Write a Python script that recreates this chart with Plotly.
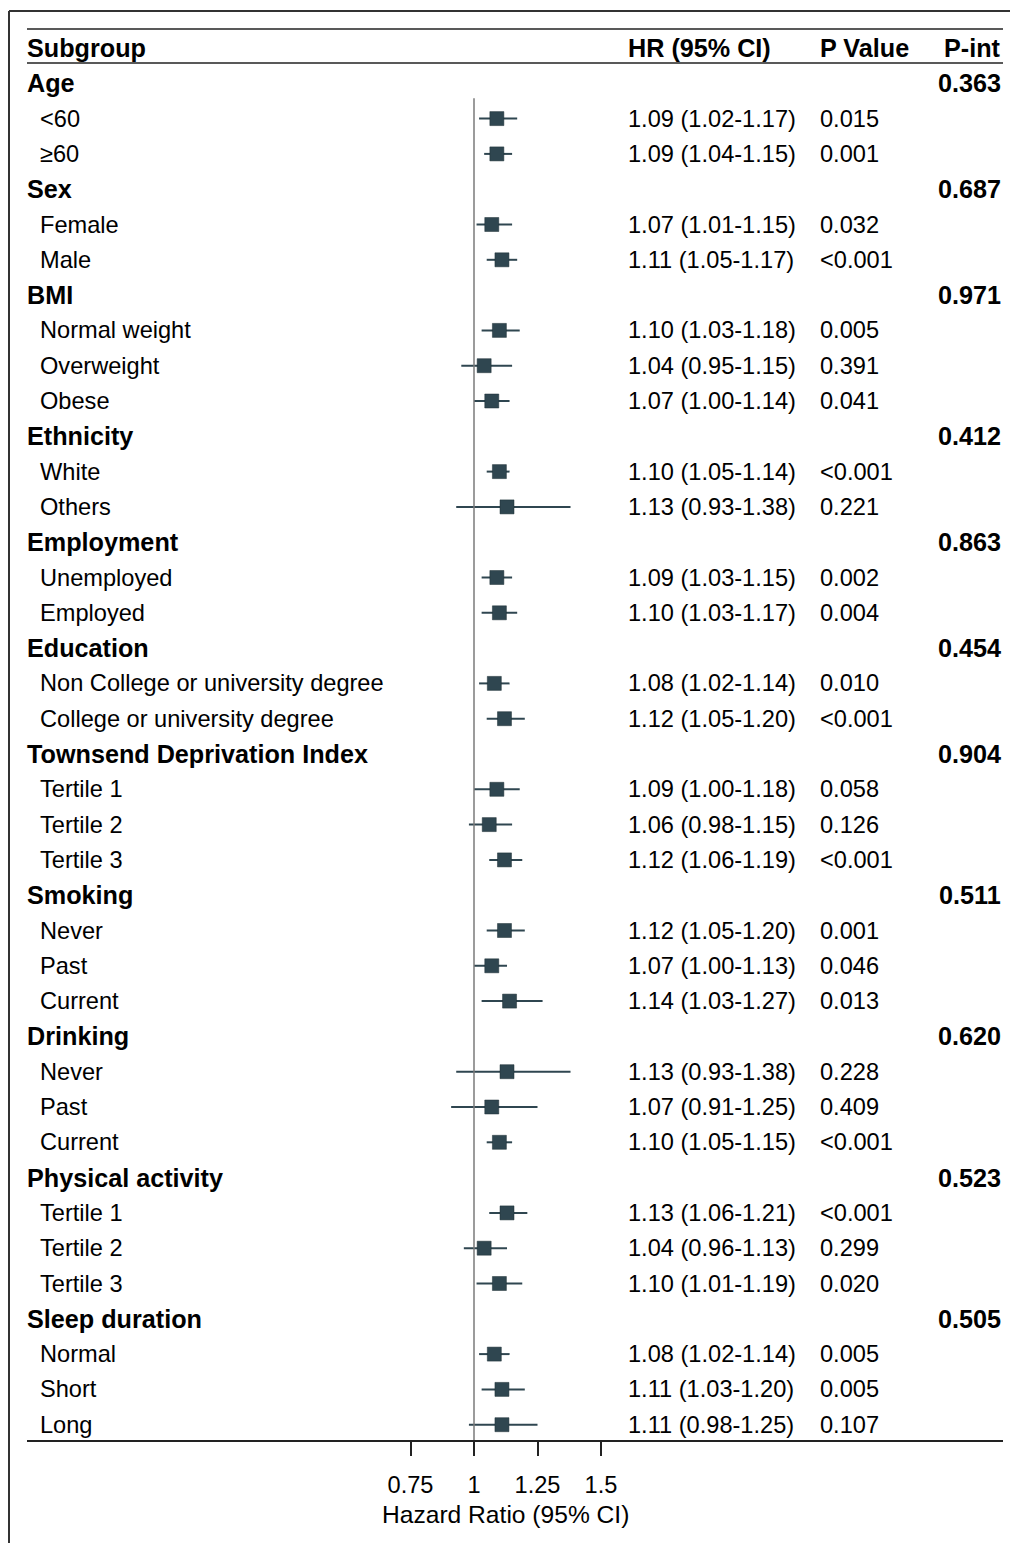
import plotly.graph_objects as go

# ---- data -------------------------------------------------------------
groups = ["Age", "Sex", "BMI", "Ethnicity", "Employment", "Education",
          "Townsend Deprivation Index", "Smoking", "Drinking",
          "Physical activity", "Sleep duration"]
p_interaction = ["0.363", "0.687", "0.971", "0.412", "0.863", "0.454",
                 "0.904", "0.511", "0.620", "0.523", "0.505"]
subgroups = [
    ["<60", "≥60"],
    ["Female", "Male"],
    ["Normal weight", "Overweight", "Obese"],
    ["White", "Others"],
    ["Unemployed", "Employed"],
    ["Non College or university degree", "College or university degree"],
    ["Tertile 1", "Tertile 2", "Tertile 3"],
    ["Never", "Past", "Current"],
    ["Never", "Past", "Current"],
    ["Tertile 1", "Tertile 2", "Tertile 3"],
    ["Normal", "Short", "Long"],
]
hr = [1.09, 1.09, 1.07, 1.11, 1.10, 1.04, 1.07, 1.10, 1.13, 1.09, 1.10,
      1.08, 1.12, 1.09, 1.06, 1.12, 1.12, 1.07, 1.14, 1.13, 1.07, 1.10,
      1.13, 1.04, 1.10, 1.08, 1.11, 1.11]
ci_low = [1.02, 1.04, 1.01, 1.05, 1.03, 0.95, 1.00, 1.05, 0.93, 1.03, 1.03,
          1.02, 1.05, 1.00, 0.98, 1.06, 1.05, 1.00, 1.03, 0.93, 0.91, 1.05,
          1.06, 0.96, 1.01, 1.02, 1.03, 0.98]
ci_high = [1.17, 1.15, 1.15, 1.17, 1.18, 1.15, 1.14, 1.14, 1.38, 1.15, 1.17,
           1.14, 1.20, 1.18, 1.15, 1.19, 1.20, 1.13, 1.27, 1.38, 1.25, 1.15,
           1.21, 1.13, 1.19, 1.14, 1.20, 1.25]
p_values = ["0.015", "0.001", "0.032", "<0.001", "0.005", "0.391", "0.041",
            "<0.001", "0.221", "0.002", "0.004", "0.010", "<0.001", "0.058",
            "0.126", "<0.001", "0.001", "0.046", "0.013", "0.228", "0.409",
            "<0.001", "<0.001", "0.299", "0.020", "0.005", "0.005", "0.107"]
tick_values = [0.75, 1, 1.25, 1.5]
tick_labels = ["0.75", "1", "1.25", "1.5"]
headers = ["Subgroup", "HR (95% CI)", "P Value", "P-int"]

# ---- geometry ---------------------------------------------------------
W, H = 1010, 1543
ML, MR, MT, MB = 27, 7, 29, 103
PW, PH = W - ML - MR, H - MT - MB
X_ONE_PX, PX_PER_UNIT = 474, 254          # pixel of HR = 1 and scale
ROW0_PX, ROW_STEP = 48, 35.3              # header row centre and row pitch

def px_x(px):
    return (px - ML) / PW

def px_y(py):
    return (H - MB - py) / PH

x_range = [1 - (X_ONE_PX - ML) / PX_PER_UNIT, 1 + (W - MR - X_ONE_PX) / PX_PER_UNIT]
y_top = (MT - ROW0_PX) / ROW_STEP
y_bot = (H - MB - ROW0_PX) / ROW_STEP

FONT = "Liberation Sans, Arial, sans-serif"
FS = 23.6        # regular text
FS_B = 25.2      # bold headings
MARK = "#2f4650"

# ---- rows -------------------------------------------------------------
annotations = []

def txt(x, y, s, bold=False, anchor="left"):
    annotations.append(dict(
        x=x, y=y, xref="paper", yref="y", text=f"<b>{s}</b>" if bold else s,
        showarrow=False, xanchor=anchor, yanchor="middle",
        font=dict(family=FONT, size=FS_B if bold else FS, color="black"),
    ))

LEFT_GROUP, LEFT_SUB, COL_HR, COL_P, RIGHT_PINT = 25, 38, 626, 818, 1003

txt(px_x(LEFT_GROUP), 0, headers[0], bold=True)
txt(px_x(COL_HR), 0, headers[1], bold=True)
txt(px_x(COL_P), 0, headers[2], bold=True)
txt(px_x(RIGHT_PINT), 0, headers[3], bold=True, anchor="right")

row = 1
ys = []
k = 0
for g, pint, subs in zip(groups, p_interaction, subgroups):
    txt(px_x(LEFT_GROUP), row, g, bold=True)
    txt(px_x(RIGHT_PINT), row, pint, bold=True, anchor="right")
    row += 1
    for s in subs:
        txt(px_x(LEFT_SUB), row, s)
        txt(px_x(COL_HR), row, f"{hr[k]:.2f} ({ci_low[k]:.2f}-{ci_high[k]:.2f})")
        txt(px_x(COL_P), row, p_values[k])
        ys.append(row)
        row += 1
        k += 1

fig = go.Figure()
fig.add_trace(go.Scatter(
    x=hr, y=ys, mode="markers",
    marker=dict(symbol="square", size=14, color=MARK,
                line=dict(width=0.5, color="#1d2e35")),
    error_x=dict(type="data", symmetric=False,
                 array=[u - h for u, h in zip(ci_high, hr)],
                 arrayminus=[h - l for h, l in zip(hr, ci_low)],
                 color=MARK, thickness=2, width=0),
    hoverinfo="skip", showlegend=False,
))

shapes = [
    # null-effect reference line
    dict(type="line", xref="x", yref="y", x0=1, x1=1, y0=1.42, y1=y_bot,
         line=dict(color="#7a7a7a", width=1.5)),
    # header rules
    dict(type="line", xref="paper", yref="paper", x0=0, x1=1,
         y0=px_y(29), y1=px_y(29), line=dict(color="#222", width=1.5)),
    dict(type="line", xref="paper", yref="paper", x0=0, x1=1,
         y0=px_y(63), y1=px_y(63), line=dict(color="#222", width=1.5)),
    # outer frame
    dict(type="line", xref="paper", yref="paper", x0=px_x(9), x1=px_x(9),
         y0=px_y(11), y1=px_y(H + 5), line=dict(color="#333", width=2)),
    dict(type="line", xref="paper", yref="paper", x0=px_x(9), x1=px_x(W + 5),
         y0=px_y(11), y1=px_y(11), line=dict(color="#333", width=2)),
]

annotations.append(dict(
    x=1.125, y=px_y(1514), xref="x", yref="paper",
    text="Hazard Ratio (95% CI)", showarrow=False,
    xanchor="center", yanchor="middle",
    font=dict(family=FONT, size=24.6, color="black"),
))

fig.update_layout(
    width=W, height=H,
    margin=dict(l=ML, r=MR, t=MT, b=MB, pad=0),
    paper_bgcolor="white", plot_bgcolor="white",
    shapes=shapes, annotations=annotations,
    xaxis=dict(range=x_range, tickvals=tick_values, ticktext=tick_labels,
               ticks="outside", ticklen=14, tickwidth=1.5, tickcolor="#222",
               showline=True, linecolor="#222", linewidth=1.5,
               showgrid=False, zeroline=False, ticklabelstandoff=9,
               tickfont=dict(family=FONT, size=FS, color="black")),
    yaxis=dict(range=[y_bot, y_top], visible=False, showgrid=False,
               zeroline=False),
    showlegend=False,
)

fig.write_html("out.html")
